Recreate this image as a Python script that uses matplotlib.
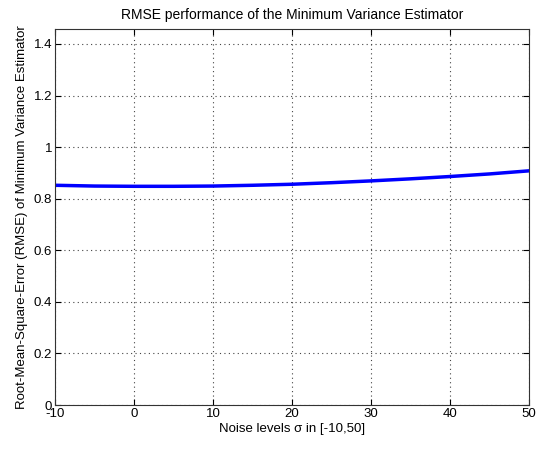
import numpy as np
import matplotlib.pyplot as plt

plt.rcParams['font.family'] = ['Liberation Sans', 'DejaVu Sans']
plt.rcParams['axes.unicode_minus'] = False

# noise levels and RMSE values
noise = [-10, -5, 0, 5, 10, 15, 20, 25, 30, 35, 40, 45, 50]
rmse = [0.852, 0.849, 0.848, 0.848, 0.849, 0.852, 0.856, 0.862, 0.869,
        0.877, 0.886, 0.896, 0.908]

fig = plt.figure(figsize=(5.37, 4.5), dpi=100)
ax = fig.add_axes([55 / 537, 45 / 450, 474 / 537, 376 / 450])

ax.plot(noise, rmse, color='blue', linewidth=2.5)

ax.set_xlim(-10, 50)
ax.set_ylim(0, 1.458)
ax.set_xticks(np.arange(-10, 51, 10))
ax.set_yticks(np.arange(0, 1.41, 0.2))
ax.set_yticklabels(['0', '0.2', '0.4', '0.6', '0.8', '1', '1.2', '1.4'])
ax.grid(True, linestyle=(0, (1, 3)), color='#444444', linewidth=0.8)
ax.tick_params(direction='in', top=True, right=True, labelsize=9.5, length=4, pad=2)
for s in ax.spines.values():
    s.set_color('#333333')

ax.set_title('RMSE performance of the Minimum Variance Estimator', fontsize=10, pad=7)
ax.set_xlabel('Noise levels σ in [-10,50]', fontsize=9.5, labelpad=2)
ax.set_ylabel('Root-Mean-Square-Error (RMSE) of Minimum Variance Estimator', fontsize=9.5, labelpad=4)

fig.savefig('out.png', dpi=100)
